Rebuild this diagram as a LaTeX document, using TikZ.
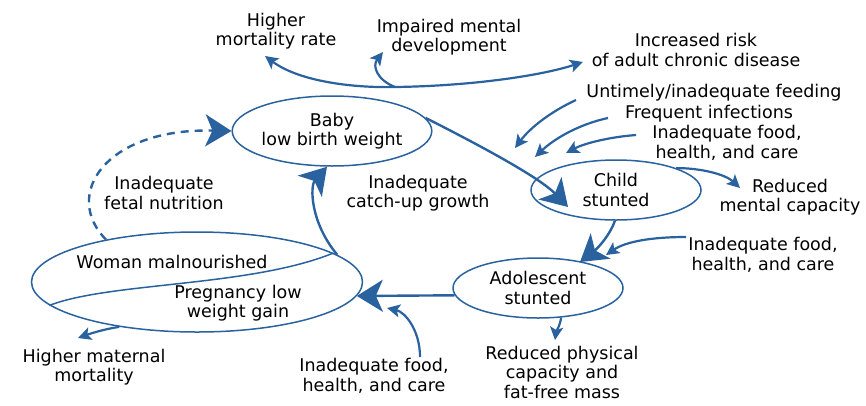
\documentclass[tikz,border=0pt]{standalone}
\usepackage{fontspec}
\setmainfont{DejaVu Sans}
\usetikzlibrary{arrows.meta,shapes.geometric}
\definecolor{cblue}{RGB}{41,98,158}
\begin{document}
\begin{tikzpicture}[x=1pt,y=-1pt,
  lbl/.style={align=center,font=\fontsize{17.5}{19.5}\selectfont,inner sep=0pt},
  stage/.style={ellipse,draw=cblue,line width=1.5pt,inner sep=0pt,align=center,font=\fontsize{17.5}{19.5}\selectfont},
  big/.style={cblue,line width=2.4pt,arrows={-Stealth[length=26pt,width=32pt,inset=7pt]}},
  small/.style={cblue,line width=2.2pt,arrows={-Stealth[length=13pt,width=13pt,inset=3pt]}},
  dbl/.style={cblue,line width=2.2pt,arrows={Stealth[length=13pt,width=13pt,inset=3pt]-Stealth[length=13pt,width=13pt,inset=3pt]}},
]
\useasboundingbox (0,0) rectangle (866,405);
% stages
\node[stage,minimum width=196pt,minimum height=70pt] (baby) at (332,131) {Baby\\low birth weight};
\node[stage,minimum width=170pt,minimum height=60pt] (child) at (616,190) {Child\\stunted};
\node[stage,minimum width=170pt,minimum height=60pt] (adol) at (538,288) {Adolescent\\stunted};
\node[stage,minimum width=331pt,minimum height=100pt] (woman) at (197,282) {};
\draw[cblue,line width=1.5pt] (woman.189) .. controls (110,282) and (250,287) .. (woman.12);
\node[lbl] (wm) at (172,262) {Woman malnourished};
\node[lbl] (plw) at (238,303) {Pregnancy low\\weight gain};
% labels
\node[lbl] (hmr) at (276,31) {Higher\\mortality rate};
\node[lbl] (imd) at (449,37) {Impaired mental\\development};
\node[lbl] (ira) at (696,50) {Increased risk\\of adult chronic disease};
\node[lbl] (utf) at (714,93) {Untimely/inadequate feeding};
\node[lbl] (fri) at (709,114) {Frequent infections};
\node[lbl] (ifa) at (727,143) {Inadequate food,\\health, and care};
\node[lbl] (rmc) at (790,197) {Reduced\\mental capacity};
\node[lbl] (ifb) at (763,255) {Inadequate food,\\health, and care};
\node[lbl] (rpc) at (562,372) {Reduced physical\\capacity and\\fat-free mass};
\node[lbl] (ifc) at (374,376) {Inadequate food,\\health, and care};
\node[lbl] (hmm) at (94,367) {Higher maternal\\mortality};
\node[lbl] (ifn) at (164,193) {Inadequate\\fetal nutrition};
\node[lbl] (icg) at (418,193) {Inadequate\\catch-up growth};
% main cycle
\draw[big] (baby.8) .. controls (485,148) and (540,178) .. ([shift={(-48,17)}]child.center);
\draw[big] (child.-92) .. controls (610,235) and (598,248) .. ([shift={(42,-26)}]adol.center);
\draw[big] (adol.185) -- (woman.-5);
\draw[big] (woman.11) .. controls (310,222) and (310,186) .. ([xshift=-5pt]baby.south);
\draw[big,dashed,dash pattern=on 8pt off 6pt] (woman.155) .. controls (62,195) and (105,128) .. (baby.west);
% top outcomes
\coordinate (topmid) at ([shift={(63,-44)}]baby.center);
\draw[dbl] ([shift={(-11,25)}]hmr.center) .. controls (300,82) and (355,88) .. (topmid)
  .. controls (470,86) and (540,76) .. ([shift={(-113,12)}]ira.center);
\draw[small] (topmid) .. controls (377,80) and (372,66) .. ([shift={(-66,15)}]imd.center);
% inputs to child
\draw[small] ([shift={(-138,7)}]utf.center) .. controls (550,112) and (530,128) .. ([shift={(-101,-42)}]child.center);
\draw[small] ([shift={(-101,4)}]fri.center) .. controls (580,124) and (555,138) .. ([shift={(-81,-33)}]child.center);
\draw[small] ([shift={(-91,-8)}]ifa.center) .. controls (610,137) and (585,143) .. ([shift={(-50,-37)}]child.center);
% child outcome
\draw[small] (child.20) .. controls (700,168) and (725,174) .. ([shift={(-50,-9)}]rmc.center);
% inputs to adolescent
\draw[small] ([shift={(-77,-18)}]ifb.center) .. controls (650,237) and (625,242) .. ([shift={(68,-33)}]adol.center);
% adolescent outcome
\draw[small] (adol.-52) .. controls (560,326) and (556,332) .. ([shift={(-7,-32)}]rpc.center);
% inputs to pregnancy
\draw[small] ([shift={(46,-19)}]ifc.center) .. controls (420,330) and (405,312) .. ([shift={(190,26)}]woman.center);
% woman outcome
\draw[small] (woman.210) .. controls (105,329) and (92,333) .. ([shift={(-16,-29)}]hmm.center);
\end{tikzpicture}
\end{document}
